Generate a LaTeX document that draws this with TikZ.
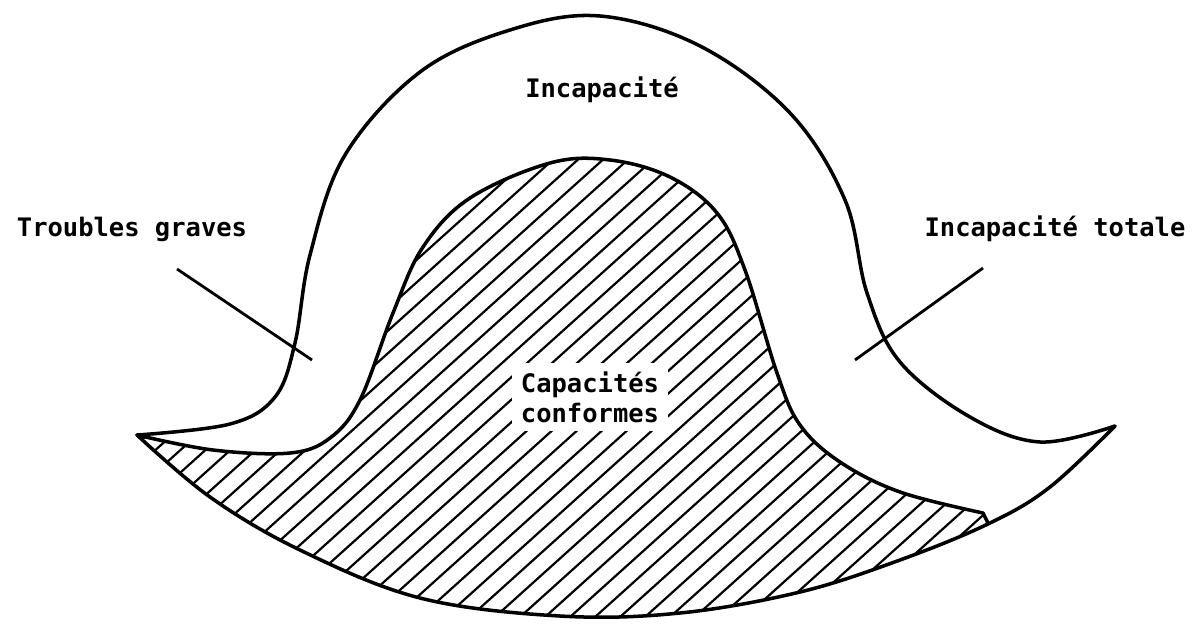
\documentclass[tikz,border=0pt]{standalone}
\usepackage{fontspec}
\newfontfamily\mono{DejaVu Sans Mono}
\begin{document}
\begin{tikzpicture}[x=0.02cm,y=-0.02cm,
  outline/.style={line width=2pt, line join=round, line cap=round},
  hatchline/.style={line width=1.25pt},
  lbl/.style={font=\mono\bfseries\fontsize{14.5}{17}\selectfont, inner sep=0pt, align=center},
  leader/.style={line width=1.6pt}]
\useasboundingbox (0,0) rectangle (1197,626);
% hatched region
\begin{scope}
\clip plot[smooth,tension=0.6] coordinates {(137,435) (213,450) (290,453) (330,438) (360,400) (393,313) (423,247) (470,198) (550,163) (610,160) (670,177) (717,213) (745,270) (777,373) (800,425) (840,462) (900,492) (983,513)}
 -- (988,523)
 -- plot[smooth,tension=0.6] coordinates {(990,523) (900,560) (800,592) (680,613) (560,616) (420,598) (300,550) (210,497) (137,435)} -- cycle;
\foreach \i in {-90,-65,...,910} \draw[hatchline] (\i,626) -- ++(-42:1000);
\end{scope}
% inner boundary
\draw[outline] plot[smooth,tension=0.6] coordinates {(137,435) (213,450) (290,453) (330,438) (360,400) (393,313) (423,247) (470,198) (550,163) (610,160) (670,177) (717,213) (745,270) (777,373) (800,425) (840,462) (900,492) (983,513)} -- (988,523);
% outer curve
\draw[outline] plot[smooth,tension=0.6] coordinates {(137,435) (230,424) (275,397) (295,343) (310,255) (345,155) (420,72) (510,30) (600,16) (700,46) (790,113) (845,200) (867,293) (900,362) (970,417) (1040,442) (1115,426)};
% bottom curve
\draw[outline] plot[smooth,tension=0.6] coordinates {(1115,426) (1050,487) (990,523) (900,560) (800,592) (680,613) (560,616) (420,598) (300,550) (210,497) (137,435)};
% labels
\node[lbl] (inc) at (602,90) {Incapacité};
\node[lbl] (tg) at (132,229) {Troubles graves};
\node[lbl] (it) at (1055,229) {Incapacité totale};
\node[lbl, fill=white, inner sep=5pt] (cc) at (590,397) {Capacités\\conformes};
% leaders
\coordinate (tgstart) at (177,269);
\coordinate (tgend) at (312,360);
\coordinate (itstart) at (983,268);
\coordinate (itend) at (855,360);
\draw[leader] (tgstart) -- (tgend);
\draw[leader] (itstart) -- (itend);
\end{tikzpicture}
\end{document}
